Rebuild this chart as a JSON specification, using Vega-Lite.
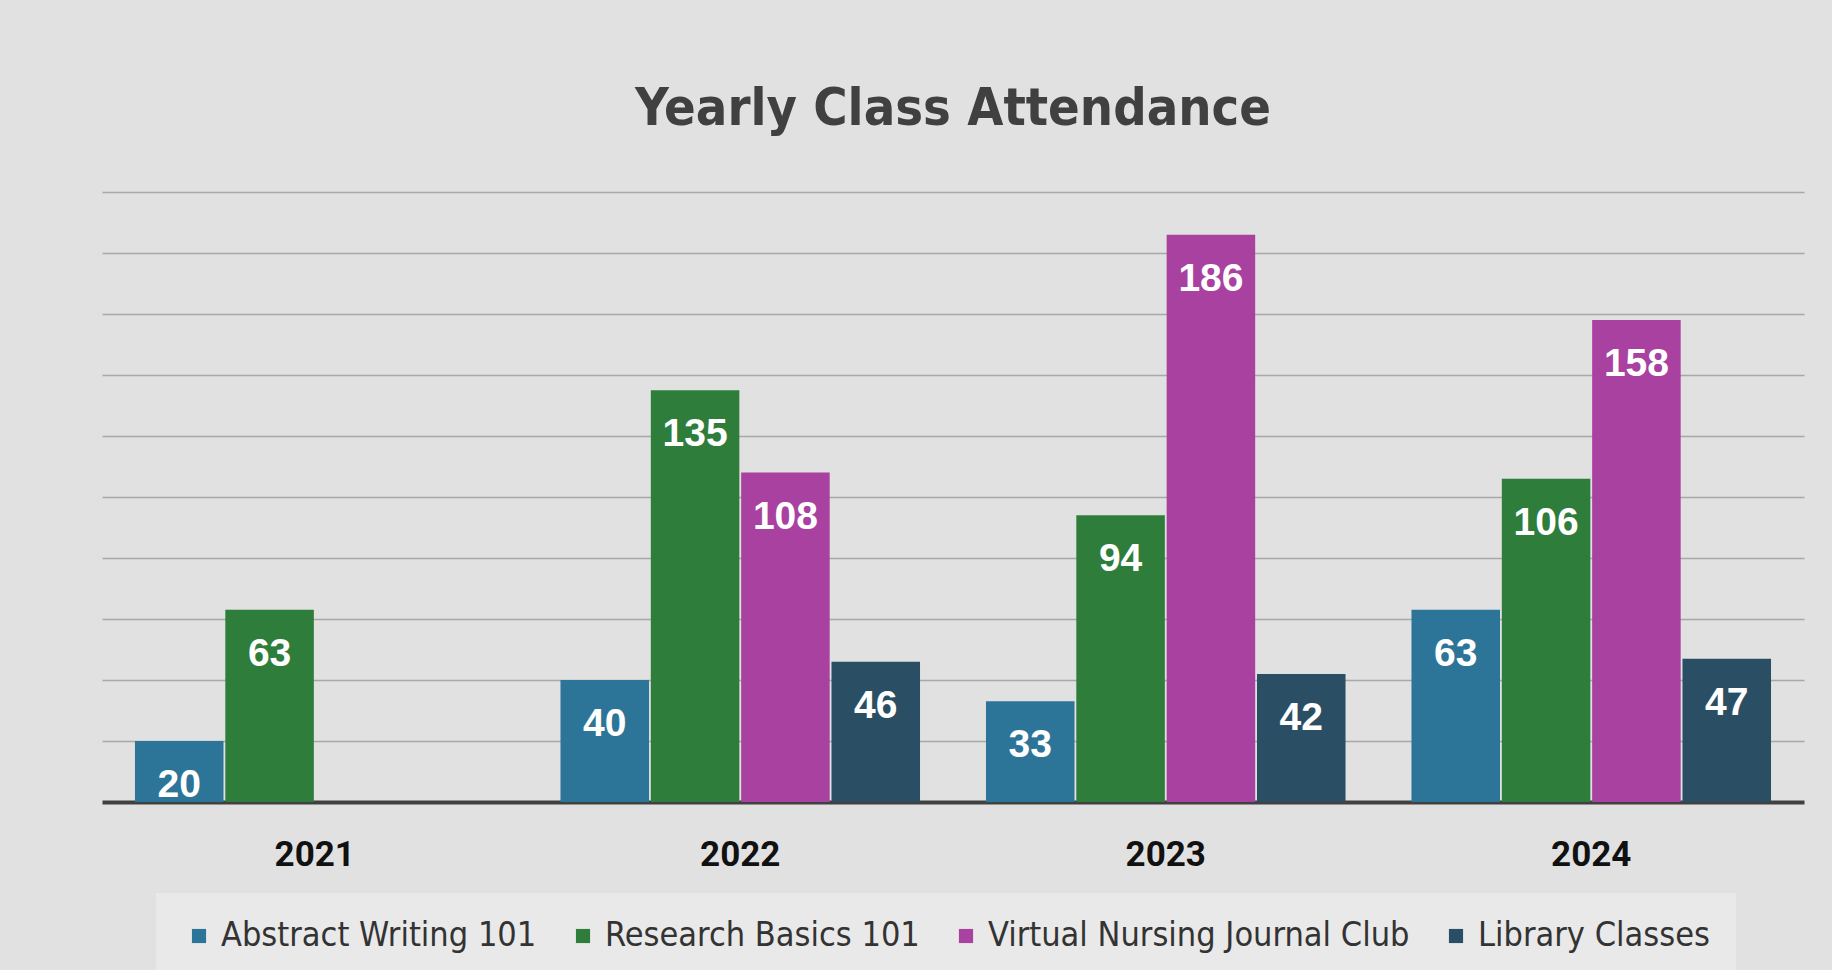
{
  "$schema": "https://vega.github.io/schema/vega-lite/v6.json",
  "autosize": {"type": "none"},
  "width": 1702,
  "height": 610,
  "padding": {"left": 102, "top": 192, "right": 28, "bottom": 168},
  "background": "#e1e1e1",
  "title": {
    "text": "Yearly Class Attendance",
    "anchor": "middle",
    "fontSize": 52,
    "font": "DejaVu Sans Condensed, Roboto, sans-serif",
    "fontWeight": "bold",
    "color": "#404040",
    "offset": 56
  },
  "data": {
    "values": [
      {"year": "2021", "class": "Abstract Writing 101", "attendance": 20},
      {"year": "2021", "class": "Research Basics 101", "attendance": 63},
      {"year": "2022", "class": "Abstract Writing 101", "attendance": 40},
      {"year": "2022", "class": "Research Basics 101", "attendance": 135},
      {"year": "2022", "class": "Virtual Nursing Journal Club", "attendance": 108},
      {"year": "2022", "class": "Library Classes", "attendance": 46},
      {"year": "2023", "class": "Abstract Writing 101", "attendance": 33},
      {"year": "2023", "class": "Research Basics 101", "attendance": 94},
      {"year": "2023", "class": "Virtual Nursing Journal Club", "attendance": 186},
      {"year": "2023", "class": "Library Classes", "attendance": 42},
      {"year": "2024", "class": "Abstract Writing 101", "attendance": 63},
      {"year": "2024", "class": "Research Basics 101", "attendance": 106},
      {"year": "2024", "class": "Virtual Nursing Journal Club", "attendance": 158},
      {"year": "2024", "class": "Library Classes", "attendance": 47}
    ]
  },
  "encoding": {
    "x": {
      "field": "year",
      "type": "nominal",
      "scale": {"paddingInner": 0.155, "paddingOuter": 0.0775},
      "axis": {
        "title": null,
        "labelAngle": 0,
        "ticks": false,
        "domainColor": "#404040",
        "domainWidth": 4,
        "labelFont": "Roboto, sans-serif",
        "labelFontWeight": "bold",
        "labelFontSize": 35,
        "labelColor": "#111111",
        "labelPadding": 35,
        "grid": false
      }
    },
    "xOffset": {
      "field": "class",
      "type": "nominal",
      "sort": ["Abstract Writing 101", "Research Basics 101", "Virtual Nursing Journal Club", "Library Classes"],
      "scale": {"domain": ["Abstract Writing 101", "Research Basics 101", "Virtual Nursing Journal Club", "Library Classes"], "paddingInner": 0.02, "paddingOuter": 0}
    },
    "y": {
      "field": "attendance",
      "type": "quantitative",
      "scale": {"domain": [0, 200], "nice": false},
      "axis": {
        "title": null,
        "labels": false,
        "ticks": false,
        "domain": false,
        "values": [20, 40, 60, 80, 100, 120, 140, 160, 180, 200],
        "grid": true,
        "gridColor": "#a8a8a8",
        "gridWidth": 1.5
      }
    }
  },
  "layer": [
    {
      "mark": {"type": "bar"},
      "encoding": {
        "color": {
          "field": "class",
          "type": "nominal",
          "scale": {
            "domain": ["Abstract Writing 101", "Research Basics 101", "Virtual Nursing Journal Club", "Library Classes"],
            "range": ["#2D7598", "#2E7D3B", "#A8419F", "#2A4F64"]
          },
          "legend": {
            "title": null,
            "orient": "none",
            "direction": "horizontal",
            "legendX": 54,
            "legendY": 701,
            "columns": 4,
            "fillColor": "#e9e9e9",
            "padding": 26,
            "symbolType": "square",
            "symbolSize": 200,
            "symbolStrokeWidth": 0,
            "symbolOffset": 0,
            "labelFont": "DejaVu Sans Condensed, Roboto, sans-serif",
            "labelFontSize": 34,
            "labelColor": "#333333",
            "labelOffset": 5,
            "columnPadding": 29,
            "labelLimit": 600
          }
        }
      }
    },
    {
      "mark": {
        "type": "text",
        "baseline": "middle",
        "dy": 44,
        "font": "Liberation Sans, Arial, sans-serif",
        "fontWeight": "bold",
        "fontSize": 39,
        "color": "white"
      },
      "encoding": {
        "text": {"field": "attendance", "type": "quantitative"}
      }
    }
  ],
  "config": {
    "view": {"stroke": null}
  }
}
